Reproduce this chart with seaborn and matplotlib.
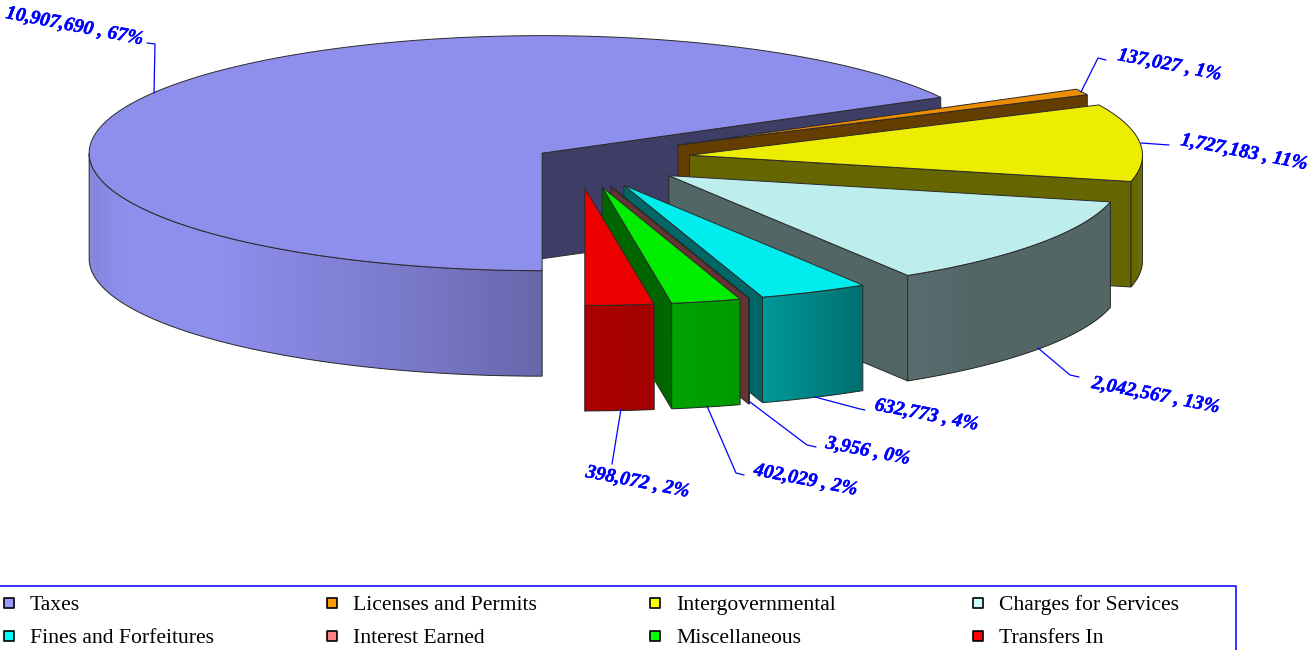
# Exploded 3D pie of revenue by source
import numpy as np
import seaborn as sns
import matplotlib
matplotlib.use('Agg')
import matplotlib.pyplot as plt
import matplotlib.patheffects as pe
from matplotlib.collections import PolyCollection

# %%
# Data
sources = ['Taxes', 'Licenses and Permits', 'Intergovernmental', 'Charges for Services',
           'Fines and Forfeitures', 'Interest Earned', 'Miscellaneous', 'Transfers In']
amounts = [10907690, 137027, 1727183, 2042567, 632773, 3956, 402029, 398072]
base_colors = ['#9999FF', '#FF9900', '#FFFF00', '#CCFFFF',
               '#00FFFF', '#FF8080', '#00FF00', '#FF0000']
explode = [0.087, 0.252, 0.252, 0.252, 0.252, 0.252, 0.252, 0.252]

# Layout of the pie in pixels
center_x, center_y = 576, 158.4
radius_x, radius_y = 453, 117.5
depth = 105.5
start_angle = 270

# Brightness of the outer wall against the angle round the pie
shade_angle = [180, 204, 225, 252, 270, 279, 288, 302, 312, 360]
shade_value = [0.84, 0.93, 0.93, 0.80, 0.67, 0.64, 0.60, 0.43, 0.40, 0.40]

# Label text start and leader lines, same order as the slices
label_start = [(6, 13), (1118, 55), (1181, 140), (1092, 383),
               (875, 405), (826, 443), (754, 470), (586, 472)]
leaders = [[(154, 93), (155, 44), (147, 43)],
           [(1081, 92), (1098, 58), (1106, 60)],
           [(1141, 143), (1169, 145)],
           [(1038, 348), (1070, 375), (1079, 377)],
           [(815, 397), (860, 409), (865, 410)],
           [(750, 402), (807, 445), (816, 447)],
           [(707, 406), (736, 473), (744, 475)],
           [(621, 409), (612, 464)]]
label_angle = -11

# %%
sns.set_style('white')
plt.rcParams['font.family'] = ['Liberation Serif', 'DejaVu Serif']
palette = sns.color_palette(base_colors)

fig, ax = plt.subplots(figsize=(13.12, 6.5), dpi=100)
fig.subplots_adjust(left=0, right=1, bottom=0, top=1)
ax.set(xlim=[0, 1312], ylim=[650, 0])
ax.axis('off')


def ring(cx, cy, angles):
    t = np.radians(angles)
    return np.column_stack([cx + radius_x * np.cos(t), cy - radius_y * np.sin(t)])


def scaled(color, k):
    return tuple(c * k for c in color)


edge = '#2a2a2a'
total = sum(amounts)
sweeps = np.array(amounts) / total * 360
ends = start_angle - np.cumsum(sweeps)
starts = ends + sweeps

# Slices are drawn from the back to the front
for i in range(len(amounts)):
    mid = np.radians((starts[i] + ends[i]) / 2)
    cx = center_x + explode[i] * radius_x * np.cos(mid)
    cy = center_y - explode[i] * radius_y * np.sin(mid)
    color = palette[i]
    angles = np.linspace(starts[i], ends[i], max(int(sweeps[i] * 2), 2))
    top = ring(cx, cy, angles)

    # cut face on the clockwise end
    face = np.array([[cx, cy], top[-1], top[-1] + [0, depth], [cx, cy + depth]])
    ax.fill(face[:, 0], face[:, 1], fc=scaled(color, 0.4), ec=edge, lw=0.7)

    # outer wall, only the part turned to the viewer
    wall = angles[np.sin(np.radians(angles)) <= 0.0001]
    if len(wall) > 1:
        pts = ring(cx, cy, wall)
        # each strip runs on under the next one so no seams show
        strips = []
        for j in range(len(pts) - 1):
            k = min(j + 2, len(pts) - 1)
            strips.append([pts[j], pts[j + 1], pts[k], pts[k] + [0, depth],
                           pts[j + 1] + [0, depth], pts[j] + [0, depth]])
        mids = ((wall[:-1] + wall[1:]) / 2) % 360
        shades = np.interp(mids, shade_angle, shade_value)
        colors = [scaled(color, s) for s in shades]
        ax.add_collection(PolyCollection(strips, facecolors=colors, edgecolors='none'))
        outline = np.vstack([pts, pts[::-1] + [0, depth]])
        ax.fill(outline[:, 0], outline[:, 1], fc='none', ec=edge, lw=0.7)

    # top of the slice
    outline = np.vstack([[cx, cy], top])
    ax.fill(outline[:, 0], outline[:, 1], fc=scaled(color, 0.93), ec=edge, lw=0.7)

# %%
# Value labels with their leader lines
for i in range(len(amounts)):
    xs, ys = zip(*leaders[i])
    ax.plot(xs, ys, color='#0000FF', lw=0.9)
    text = f'{amounts[i]:,} , {amounts[i] / total * 100:.0f}%'
    ax.text(label_start[i][0], label_start[i][1], text, color='#0000FF', fontsize=14.2,
            fontweight='bold', fontstyle='italic', rotation=label_angle,
            rotation_mode='anchor', ha='left', va='center',
            path_effects=[pe.withStroke(linewidth=0.3, foreground='#0000FF')])

# %%
# Legend box, cut off by the bottom of the picture
ax.plot([-5, 1236, 1236], [586, 586, 660], color='#0000FF', lw=1.1)
for i, name in enumerate(sources):
    col, row = i % 4, i // 4
    ax.scatter(9.4 + col * 323, 603 + row * 33, marker='s', s=62, color=palette[i],
               edgecolor='black', linewidth=1.2, joinstyle='round')
    ax.text(30 + col * 323, 610 + row * 33, name, color='black', fontsize=15.6,
            ha='left', va='baseline')

fig.savefig('out.png', dpi=100)
